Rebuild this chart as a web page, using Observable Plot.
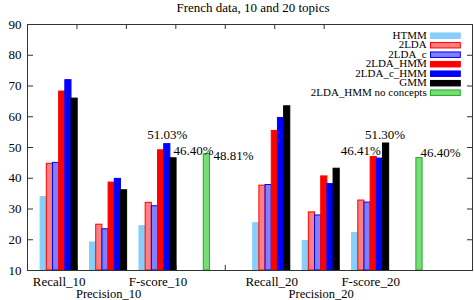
<!DOCTYPE html>
<html><head><meta charset="utf-8">
<script src="https://cdn.jsdelivr.net/npm/d3@7"></script>
<script src="https://cdn.jsdelivr.net/npm/@observablehq/plot@0.6"></script>
<style>
body{margin:0;background:#fff;}
#chart{width:474px;height:300px;}
#chart svg, #chart svg text{font-family:"Liberation Serif", serif;}
</style></head><body><div id="chart"></div>
<script>
// ---- data ----
const title = "French data, 10 and 20 topics";
const series = ["HTMM", "2LDA", "2LDA_c", "2LDA_HMM", "2LDA_c_HMM", "GMM", "2LDA_HMM no concepts"];
const metrics = ["Recall", "Precision", "F-score"];
const topicSets = ["10", "20"];
const recall10    = [33.9, 44.7, 45.0, 68.2, 71.9, 65.9];
const precision10 = [19.1, 24.9, 23.4, 38.6, 39.8, 36.1];
const fscore10    = [24.4, 32.0, 30.9, 49.1, 51.1, 46.5];
const recall20    = [25.4, 37.6, 37.8, 55.4, 59.6, 63.4];
const precision20 = [19.6, 28.9, 27.9, 40.6, 38.1, 43.1];
const fscore20    = [22.2, 32.75, 32.1, 46.9, 46.4, 51.3];
const noConcepts  = [47.9, 46.55];
const yTicks = [10, 20, 30, 40, 50, 60, 70, 80, 90];
const xTicks = [1, 2, 3, 4, 5, 6];
// value labels on the F-score clusters: set index, series index, text
const pctLabels = [
  {set: 0, s: 4, text: "51.03%"},
  {set: 0, s: 5, text: "46.40%"},
  {set: 0, s: 6, text: "48.81%"},
  {set: 1, s: 5, text: "51.30%"},
  {set: 1, s: 4, text: "46.41%"},
  {set: 1, s: 6, text: "46.40%"}
];

// ---- styles / layout ----
const fills   = ["#87cefa", "#ff7f7f", "#7f7fff", "#ff0000", "#0000ff", "#000000", "#77dd77"];
const strokes = ["#87cefa", "#ff0000", "#0000ff", "#ff0000", "#0000ff", "#000000", "#22aa22"];
const font = "Liberation Serif";
const W = 474, H = 300, mL = 27, mR = 2, mT = 24, mB = 30;
const plotW = W - mL - mR, plotH = H - mT - mB;
const xDomain = [0, 9], yDomain = [10, 90];
const setStart = [0.265, 4.565];   // cluster layout (histogram units)
const barW = 0.125, extraOffset = 3.3;
const labelStyle = [
  {anchor: "middle", dx: 0, dy: -9.3},
  {anchor: "start", dx: 0, dy: -7.8},
  {anchor: "start", dx: 6.7, dy: 2},
  {anchor: "middle", dx: -1, dy: -9},
  {anchor: "end", dx: 1, dy: -7.4},
  {anchor: "start", dx: 1, dy: -5.3}
];

const table = [[recall10, precision10, fscore10], [recall20, precision20, fscore20]];
const bars = [];
topicSets.forEach((t, si) => {
  metrics.forEach((m, mi) => {
    table[si][mi].forEach((v, k) => {
      const x1 = setStart[si] + mi + k * barW;
      bars.push({set: si, m: mi, s: k, x1, x2: x1 + barW, v});
    });
  });
  const x1 = setStart[si] + extraOffset;
  bars.push({set: si, m: 2, s: 6, x1, x2: x1 + barW, v: noConcepts[si]});
});
const xLabels = [];
topicSets.forEach((t, si) => metrics.forEach((m, mi) => {
  xLabels.push({text: m + "_" + t, x: setStart[si] + mi + 3 * barW, row: mi === 1 ? 1 : 0});
}));
const labels = pctLabels.map((l, i) => {
  const b = bars.find(d => d.set === l.set && d.m === 2 && d.s === l.s);
  return {...l, ...labelStyle[i], x: (b.x1 + b.x2) / 2, y: b.v};
});

const ink = "#333";
const plot = Plot.plot({
  width: W, height: H,
  marginLeft: mL, marginRight: mR, marginTop: mT, marginBottom: mB,
  style: {fontFamily: font, fontSize: "13px", background: "#fff", color: "#000"},
  x: {type: "linear", domain: xDomain, axis: null},
  y: {domain: yDomain, axis: null},
  marks: [
    Plot.tickX(xTicks, {x: d => d, insetBottom: plotH - 5, stroke: ink}),
    Plot.tickX(xTicks, {x: d => d, insetTop: plotH - 5, stroke: ink}),
    Plot.tickY(yTicks, {y: d => d, insetRight: plotW - 6, stroke: ink}),
    Plot.tickY(yTicks, {y: d => d, insetLeft: plotW - 5, stroke: ink}),
    Plot.rect(bars, {x1: "x1", x2: "x2", y1: yDomain[0], y2: "v",
      fill: d => fills[d.s], stroke: d => strokes[d.s], strokeWidth: 1}),
    Plot.frame({stroke: ink}),
    Plot.axisY({ticks: yTicks, tickSize: 0, tickPadding: 6, fontSize: 13, fontFamily: font, label: null}),
    Plot.text(xLabels.filter(d => d.row === 0), {x: "x", text: "text", frameAnchor: "bottom", dy: 11, lineAnchor: "middle", fontSize: 13, fontFamily: font}),
    Plot.text(xLabels.filter(d => d.row === 1), {x: "x", text: "text", frameAnchor: "bottom", dy: 23, lineAnchor: "middle", fontSize: 12.5, fontFamily: font}),
    ...labels.map(l => Plot.text([l], {x: "x", y: "y", text: "text", textAnchor: l.anchor, dx: l.dx, dy: l.dy, lineAnchor: "middle", fontSize: 13, fontFamily: font})),
    Plot.text([title], {frameAnchor: "top", dx: 3, dy: -16.5, lineAnchor: "middle", fontSize: 13, fontFamily: font})
  ]
});

// legend inside the plot, top right (text squeezed vertically like the original)
const svg = d3.select(plot);
const lg = svg.append("g").attr("font-family", font).attr("font-size", 11);
series.forEach((name, i) => {
  const y = 35.7 + 9.5 * i;
  lg.append("text").attr("transform", `translate(426.7,${y}) scale(1,0.85)`)
    .attr("text-anchor", "end").attr("dy", "0.32em").attr("fill", "#000").text(name);
  lg.append("rect").attr("x", 430.5).attr("y", y - 2.75).attr("width", 29.8).attr("height", 5.5)
    .attr("fill", fills[i]).attr("stroke", strokes[i]).attr("stroke-width", 1);
});
document.getElementById("chart").append(plot);
</script></body></html>
